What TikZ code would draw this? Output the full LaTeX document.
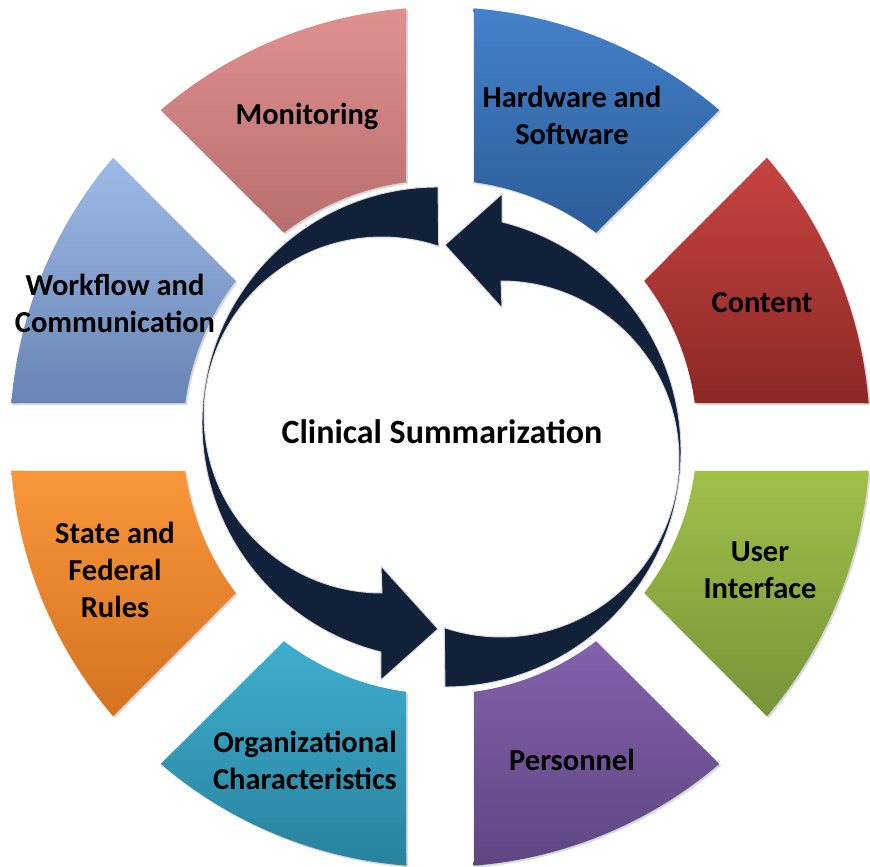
\documentclass[tikz,border=0pt]{standalone}
\usepackage{fontspec}
\setmainfont{Carlito}
\usetikzlibrary{shadows}

\definecolor{navy}{RGB}{17,33,57}
\definecolor{conT}{RGB}{198,68,64}   \definecolor{conB}{RGB}{140,40,38}
\definecolor{hwT}{RGB}{68,130,202}   \definecolor{hwB}{RGB}{44,92,152}
\definecolor{monT}{RGB}{224,144,144} \definecolor{monB}{RGB}{184,110,110}
\definecolor{wfcT}{RGB}{158,186,230} \definecolor{wfcB}{RGB}{104,132,180}
\definecolor{sfrT}{RGB}{250,150,58}  \definecolor{sfrB}{RGB}{212,114,32}
\definecolor{orgT}{RGB}{62,174,206}  \definecolor{orgB}{RGB}{40,130,158}
\definecolor{perT}{RGB}{130,98,172}  \definecolor{perB}{RGB}{94,70,130}
\definecolor{uiT}{RGB}{160,192,74}   \definecolor{uiB}{RGB}{118,148,56}

\begin{document}
\begin{tikzpicture}[x=0.03cm, y=0.03cm,
  seg/.style={drop shadow={opacity=0.3, shadow xshift=1.5pt, shadow yshift=-1.5pt}},
  arrw/.style={fill=navy, draw=black!15, line width=0.8pt},
  lbl/.style={font=\fontsize{26}{31.5}\selectfont\bfseries, align=center, text=black},
  ttl/.style={font=\fontsize{29}{34}\selectfont\bfseries, text=black}
]
\useasboundingbox (0,0) rectangle (870,866);
% ----- outer ring: eight segments -----
\begin{scope}[shift={(440,429)}]
\foreach \a/\ct/\cb in {0/conT/conB, 45/hwT/hwB, 90/monT/monB, 135/wfcT/wfcB,
                        180/sfrT/sfrB, 225/orgT/orgB, 270/perT/perB, 315/uiT/uiB}
  \path[seg, top color=\ct, bottom color=\cb]
    ({\a+4.5}:430) arc[start angle=\a+4.5, end angle=\a+40.5, radius=430]
    -- ({\a+37.4}:257) arc[start angle=\a+37.4, end angle=\a+7.6, radius=257] -- cycle;
\end{scope}
% ----- two curved arrows -----
\foreach \r in {0,180}
  \path[arrw, rotate around={\r:(441.5,429)}]
    (438,679) arc[start angle=90, end angle=256, radius=236]
    -- (381,186) -- (438,237) -- (381,300) -- (382,273)
    arc[start angle=270, end angle=71.4, radius=178] -- cycle;
% ----- labels -----
\node[lbl] (hw) at (572,751) {Hardware and\\Software};
\node[lbl] (mon) at (307,750) {Monitoring};
\node[lbl] (wfc) at (115,563) {Workflow and\\Communication};
\node[lbl] (sfr) at (115,296) {State and\\Federal\\Rules};
\node[lbl] (org) at (305,106) {Organizational\\Characteristics};
\node[lbl] (per) at (572,106) {Personnel};
\node[lbl] (ui) at (760,296) {User\\Interface};
\node[lbl] (con) at (762,563) {Content};
\node[ttl] (cs) at (442,434) {Clinical Summarization};
\end{tikzpicture}
\end{document}
